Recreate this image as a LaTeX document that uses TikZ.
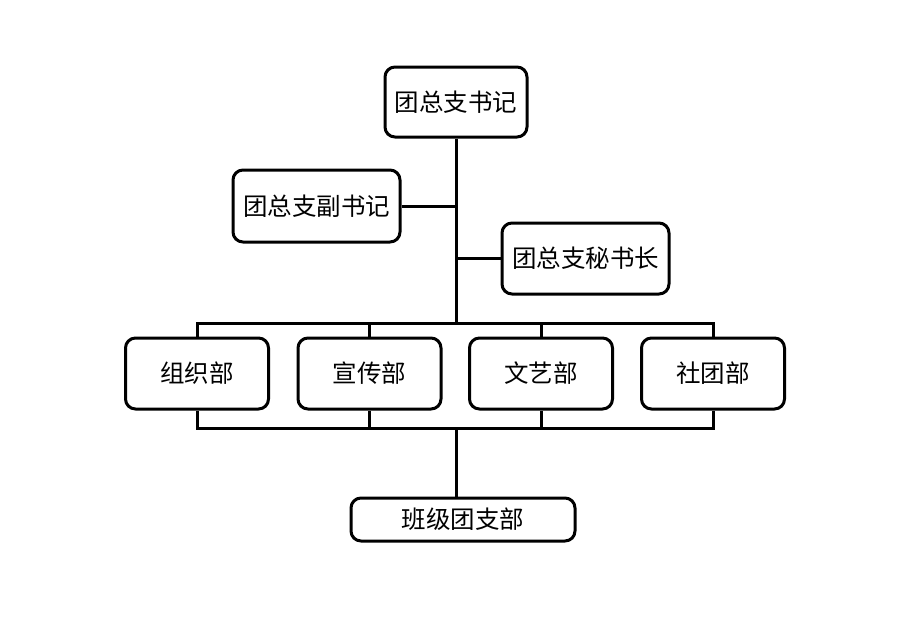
\documentclass[tikz,border=0pt]{standalone}
\usepackage{fontspec}
\setmainfont{Noto Sans CJK SC}
\begin{document}
\begin{tikzpicture}[x=1pt,y=-1pt,
  box/.style={draw=black, line width=3pt, rounded corners=10pt, fill=white,
    inner sep=0pt, font=\fontsize{24.5}{27}\selectfont},
  conn/.style={line width=3pt}]
\useasboundingbox (0,0) rectangle (924,625);
\fill[white] (0,0) rectangle (924,625);
\coordinate (hub) at (456,323);
\coordinate (bhub) at (456,428);
\node[box, minimum width=142pt, minimum height=70pt] (top) at (456,102) {团总支书记};
\node[box, minimum width=167pt, minimum height=72pt] (fu) at (316.5,206) {团总支副书记};
\node[box, minimum width=167pt, minimum height=71pt] (mi) at (585.5,258.5) {团总支秘书长};
\node[box, minimum width=143pt, minimum height=71pt] (d1) at (197,373.5) {组织部};
\node[box, minimum width=143pt, minimum height=71pt] (d2) at (369.5,373.5) {宣传部};
\node[box, minimum width=143pt, minimum height=71pt] (d3) at (541,373.5) {文艺部};
\node[box, minimum width=143pt, minimum height=71pt] (d4) at (713,373.5) {社团部};
\node[box, minimum width=224pt, minimum height=43pt] (bot) at (463,519.5) {班级团支部};
\draw[conn] (top.south) -- (hub);
\draw[conn] (fu.east) -- (fu.east -| top.south);
\draw[conn] (mi.west) -- (mi.west -| top.south);
\draw[conn] (d1.north) |- (hub) -| (d4.north);
\draw[conn] (d2.north) -- (d2.north |- hub);
\draw[conn] (d3.north) -- (d3.north |- hub);
\draw[conn] (d1.south) |- (bhub) -| (d4.south);
\draw[conn] (d2.south) -- (d2.south |- bhub);
\draw[conn] (d3.south) -- (d3.south |- bhub);
\draw[conn] (bhub) -- (bhub |- bot.north);
\end{tikzpicture}
\end{document}
